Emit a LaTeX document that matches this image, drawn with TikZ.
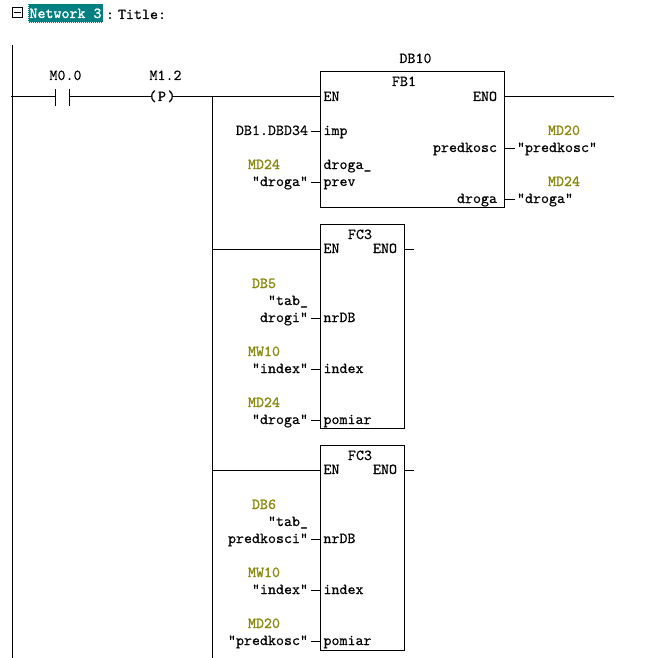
\documentclass[tikz,border=0pt]{standalone}
\usepackage{fontspec}
\newfontfamily\plainmono{lmmono10-regular}[Extension=.otf,FakeBold=0.35]
\newfontfamily\heavymono{lmmono10-regular}[Extension=.otf,FakeBold=1.3]
\definecolor{addr}{HTML}{8A8A10}
\definecolor{teal1}{HTML}{008080}
\tikzset{
  lbl/.style={inner sep=0pt,outer sep=0pt,text height=9pt,text depth=2pt,font=\plainmono\fontsize{15.24}{16}\selectfont,text=black},
  lbw/.style={lbl,anchor=west},
  lbe/.style={lbl,anchor=east},
  lbc/.style={lbl,anchor=center},
  adr/.style={lbl,anchor=center,text=addr,font=\heavymono\fontsize{15.24}{16}\selectfont},
  wire/.style={draw=black,line width=1pt},
  blockbox/.style={draw=black,line width=1pt,fill=none,inner sep=0pt,outer sep=0pt,anchor=north west},
}
\newcommand{\inpin}[4]{% name, box, text, y : right-aligned operand with stub into box
  \node[lbe] (#1) at (308,#4) {#3};
  \draw[wire] ([xshift=3pt]#1.east) -- (#1.east -| #2.west);}
\newcommand{\outpin}[4]{%
  \node[lbw] (#1) at (517,#4) {#3};
  \draw[wire] (#2.east |- #1.west) -- ([xshift=-2pt]#1.west);}
\begin{document}
\begin{tikzpicture}[x=1pt,y=-1pt]
\useasboundingbox[fill=white] (0,0) rectangle (658,658);
% header
\node[draw=black,line width=1pt,minimum size=10pt,inner sep=0pt] (toggle) at (17,13) {};
\draw[wire] ([xshift=2pt]toggle.west) -- ([xshift=-2pt]toggle.east);
\node[fill=teal1,draw=white,line width=1pt,dash pattern=on 1pt off 1pt,minimum width=75pt,minimum height=19pt,inner sep=0pt] (netbg) at (65.5,13.5) {};
\node[lbc,text=white,font=\heavymono\fontsize{15.24}{16}\selectfont] (net) at (65.5,14.5) {Network 3};
\node[lbc] (colon) at (110,15.5) {:};
\node[lbw] (title) at (118,15.5) {Title:};
% rails
\coordinate (railtop) at (12,45);
\coordinate (railbot) at (12,658);
\draw[wire] (railtop) -- (railbot);
% contact
\coordinate (cstart) at (11,97);
\coordinate (cl) at (55.5,97);
\coordinate (cr) at (69.5,97);
\draw[wire] (cstart) -- (cl);
\draw[wire] ([yshift=-9pt]cl) -- ([yshift=8pt]cl);
\draw[wire] ([yshift=-9pt]cr) -- ([yshift=8pt]cr);
\node[lbc] (m00) at (65.5,76.5) {M0.0};
% P coil
\node[lbc] (coil) at (162,97.5) {P};
\node[lbc] (pl) at (152.5,97.5) {(};
\node[lbc] (pr) at (171.5,97.5) {)};
\node[lbc] (m12) at (165.5,76.5) {M1.2};
\coordinate (coilw) at (151,97);
\coordinate (coile) at (173,97);
\draw[wire] (cr) -- (coilw);
% FB1
\node[blockbox,minimum width=184pt,minimum height=136pt] (fb) at (320.5,71.5) {};
\node[lbc] (db10) at (415.5,59.5) {DB10};
\node[lbc] (fbt) at (404,82.5) {FB1};
\node[lbw] (fben) at (323.5,97.5) {EN};
\node[lbe] (fbeno) at (497,97.5) {ENO};
\node[lbw] (fbimp) at (323.5,131.5) {imp};
\node[lbw] (fbdp1) at (323.5,165.5) {droga\_};
\node[lbw] (fbdp2) at (323.5,182.5) {prev};
\node[lbe] (fbpr) at (497,148.5) {predkosc};
\node[lbe] (fbdr) at (497,199.5) {droga};
\coordinate (busj) at (212,97);
\coordinate (busend) at (212,658);
\coordinate (enoend) at (614,97);
\draw[wire] (coile) -- (fb.west |- busj);
\draw[wire] (busj) -- (busend);
\draw[wire] (fb.east |- enoend) -- (enoend);
\inpin{fbin}{fb}{DB1.DBD34}{131.5}
\node[adr] (fba) at (264,165.5) {MD24};
\inpin{fbin2}{fb}{"droga"}{182.5}
\node[adr] (fbb) at (564,131.5) {MD20};
\outpin{fbo1}{fb}{"predkosc"}{148.5}
\node[adr] (fbc) at (564,182.5) {MD24};
\outpin{fbo2}{fb}{"droga"}{199.5}
% FC3 A
\node[blockbox,minimum width=84pt,minimum height=204pt] (fa) at (320.5,224.5) {};
\node[lbc] (fat) at (360,235.5) {FC3};
\node[lbw] (faen) at (323.5,249.5) {EN};
\node[lbe] (faeno) at (397,249.5) {ENO};
\coordinate (faj) at (212,249);
\coordinate (faend) at (414,249);
\draw[wire] (faj) -- (fa.west |- faj);
\draw[wire] (fa.east |- faend) -- (faend);
\node[lbw] (fap1) at (323.5,318.5) {nrDB};
\node[lbw] (fap2) at (323.5,369.5) {index};
\node[lbw] (fap3) at (323.5,420.5) {pomiar};
\node[adr] (faa1) at (264,284.5) {DB5};
\node[lbe] (fal0) at (308,301.5) {"tab\_};
\inpin{fal1}{fa}{drogi"}{318.5}
\node[adr] (faa2) at (264,352.5) {MW10};
\inpin{fal2}{fa}{"index"}{369.5}
\node[adr] (faa3) at (264,403.5) {MD24};
\inpin{fal3}{fa}{"droga"}{420.5}
% FC3 B
\node[blockbox,minimum width=84pt,minimum height=204.5pt] (fc) at (320.5,445.5) {};
\node[lbc] (fct) at (360,456.5) {FC3};
\node[lbw] (fcen) at (323.5,470.5) {EN};
\node[lbe] (fceno) at (397,470.5) {ENO};
\coordinate (fcj) at (212,470);
\coordinate (fcend) at (414,470);
\draw[wire] (fcj) -- (fc.west |- fcj);
\draw[wire] (fc.east |- fcend) -- (fcend);
\node[lbw] (fcp1) at (323.5,539.5) {nrDB};
\node[lbw] (fcp2) at (323.5,590.5) {index};
\node[lbw] (fcp3) at (323.5,641.5) {pomiar};
\node[adr] (fca1) at (264,505.5) {DB6};
\node[lbe] (fcl0) at (308,522.5) {"tab\_};
\inpin{fcl1}{fc}{predkosci"}{539.5}
\node[adr] (fca2) at (264,573.5) {MW10};
\inpin{fcl2}{fc}{"index"}{590.5}
\node[adr] (fca3) at (264,624.5) {MD20};
\inpin{fcl3}{fc}{"predkosc"}{641.5}
\end{tikzpicture}
\end{document}
